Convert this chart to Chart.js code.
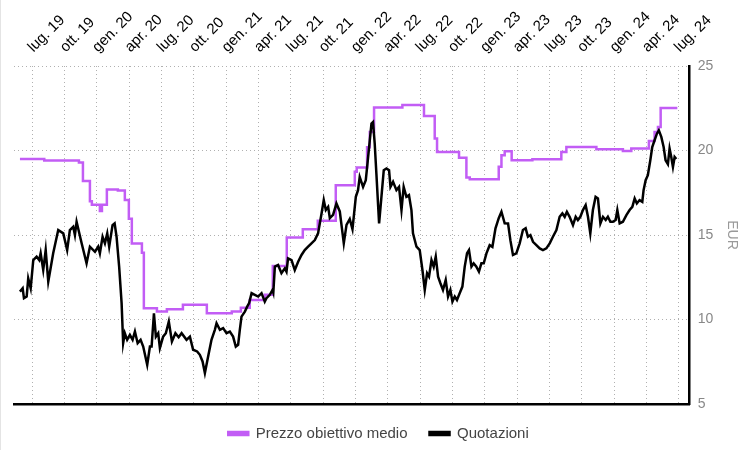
<!DOCTYPE html>
<html>
<head>
<meta charset="utf-8">
<script src="https://cdn.jsdelivr.net/npm/chart.js@4/dist/chart.umd.min.js"></script>
<style>
  html, body { margin: 0; padding: 0; background: #fff; }
  #wrap { width: 744px; height: 450px; border-left: 1px solid #e4e4e4; }
</style>
</head>
<body>
<div id="wrap"><canvas id="grafico" width="744" height="450"></canvas></div>
<script>
// date come anno decimale (2019.5 = luglio 2019)
const trimestri = [2019.5, 2019.75, 2020, 2020.25, 2020.5, 2020.75, 2021, 2021.25, 2021.5, 2021.75,
  2022, 2022.25, 2022.5, 2022.75, 2023, 2023.25, 2023.5, 2023.75, 2024, 2024.25, 2024.5];
const etichette = ['lug. 19', 'ott. 19', 'gen. 20', 'apr. 20', 'lug. 20', 'ott. 20', 'gen. 21', 'apr. 21',
  'lug. 21', 'ott. 21', 'gen. 22', 'apr. 22', 'lug. 22', 'ott. 22', 'gen. 23', 'apr. 23', 'lug. 23',
  'ott. 23', 'gen. 24', 'apr. 24', 'lug. 24'];

// Prezzo obiettivo medio (ogni punto = nuovo valore da quella data)
const obiettivoDate = [2019.405, 2019.593, 2019.861, 2019.892, 2019.946, 2019.961, 2020.023, 2020.039,
  2020.077, 2020.162, 2020.216, 2020.247, 2020.270, 2020.348, 2020.363, 2020.464, 2020.541, 2020.665,
  2020.850, 2021.043, 2021.113, 2021.182, 2021.298, 2021.360, 2021.468, 2021.592, 2021.708, 2021.847,
  2021.994, 2022.009, 2022.089, 2022.110, 2022.143, 2022.362, 2022.529, 2022.612, 2022.630, 2022.800,
  2022.857, 2022.883, 2023.107, 2023.128, 2023.153, 2023.207, 2023.367, 2023.591, 2023.630, 2023.862,
  2024.067, 2024.132, 2024.268, 2024.312, 2024.338, 2024.359, 2024.488];
const obiettivoValori = [19.5, 19.41, 19.3, 18.2, 17.0, 16.8, 16.43, 16.8,
  17.7, 17.64, 17.07, 15.96, 14.5, 13.96, 10.67, 10.47, 10.61, 10.87,
  10.37, 10.47, 10.7, 11.16, 11.46, 13.17, 14.86, 15.35, 15.85, 17.95,
  18.74, 19.0, 20.2, 21.1, 22.55, 22.7, 22.05, 20.71, 19.92, 19.57,
  18.41, 18.31, 19.04, 19.73, 19.96, 19.43, 19.49, 19.92, 20.21, 20.08,
  19.98, 20.12, 20.57, 21.1, 21.4, 22.52, 22.52];

// Quotazioni
const quotazioniDate = [2019.405, 2019.426, 2019.436, 2019.457, 2019.469, 2019.488, 2019.508, 2019.534,
  2019.554, 2019.565, 2019.585, 2019.604, 2019.624, 2019.642, 2019.662, 2019.701, 2019.740, 2019.770,
  2019.791, 2019.817, 2019.830, 2019.843, 2019.882, 2019.920, 2019.946, 2019.985, 2020.010, 2020.023,
  2020.044, 2020.062, 2020.080, 2020.095, 2020.121, 2020.137, 2020.152, 2020.172, 2020.191, 2020.203,
  2020.216, 2020.234, 2020.255, 2020.276, 2020.294, 2020.315, 2020.338, 2020.358, 2020.389, 2020.410,
  2020.423, 2020.441, 2020.456, 2020.474, 2020.487, 2020.512, 2020.533, 2020.556, 2020.580, 2020.607,
  2020.632, 2020.655, 2020.693, 2020.719, 2020.744, 2020.775, 2020.796, 2020.817, 2020.835, 2020.860,
  2020.886, 2020.912, 2020.925, 2020.951, 2020.976, 2021.002, 2021.028, 2021.053, 2021.074, 2021.092,
  2021.105, 2021.118, 2021.144, 2021.162, 2021.177, 2021.196, 2021.221, 2021.247, 2021.273, 2021.298,
  2021.311, 2021.337, 2021.358, 2021.364, 2021.376, 2021.401, 2021.427, 2021.453, 2021.466, 2021.478,
  2021.505, 2021.530, 2021.556, 2021.582, 2021.607, 2021.633, 2021.659, 2021.685, 2021.710, 2021.737,
  2021.754, 2021.770, 2021.788, 2021.801, 2021.826, 2021.852, 2021.878, 2021.909, 2021.930, 2021.955,
  2021.976, 2021.986, 2022.002, 2022.019, 2022.032, 2022.058, 2022.079, 2022.092, 2022.110, 2022.123,
  2022.135, 2022.148, 2022.161, 2022.182, 2022.200, 2022.218, 2022.239, 2022.259, 2022.270, 2022.290,
  2022.316, 2022.336, 2022.355, 2022.372, 2022.393, 2022.413, 2022.432, 2022.444, 2022.471, 2022.496,
  2022.517, 2022.535, 2022.553, 2022.568, 2022.587, 2022.604, 2022.620, 2022.638, 2022.656, 2022.676,
  2022.697, 2022.715, 2022.733, 2022.749, 2022.767, 2022.784, 2022.805, 2022.826, 2022.844, 2022.862,
  2022.877, 2022.896, 2022.913, 2022.934, 2022.954, 2022.973, 2022.991, 2023.012, 2023.037, 2023.058,
  2023.082, 2023.107, 2023.128, 2023.153, 2023.179, 2023.197, 2023.217, 2023.243, 2023.269, 2023.294,
  2023.315, 2023.333, 2023.352, 2023.372, 2023.398, 2023.424, 2023.449, 2023.475, 2023.501, 2023.526,
  2023.553, 2023.578, 2023.599, 2023.617, 2023.634, 2023.655, 2023.681, 2023.702, 2023.719, 2023.738,
  2023.758, 2023.779, 2023.797, 2023.815, 2023.835, 2023.856, 2023.874, 2023.893, 2023.913, 2023.934,
  2023.951, 2023.970, 2023.990, 2024.011, 2024.024, 2024.042, 2024.067, 2024.094, 2024.119, 2024.140,
  2024.158, 2024.175, 2024.196, 2024.217, 2024.227, 2024.243, 2024.260, 2024.279, 2024.294, 2024.312,
  2024.330, 2024.345, 2024.364, 2024.382, 2024.397, 2024.415, 2024.428, 2024.441, 2024.454, 2024.467,
  2024.480];
const quotazioniValori = [11.65, 11.85, 11.26, 11.36, 12.44, 11.85, 13.52, 13.72,
  13.52, 13.92, 12.93, 14.11, 12.24, 13.03, 13.92, 15.3, 15.1, 14.11,
  15.3, 15.49, 15.0, 15.79, 14.51, 13.33, 14.31, 14.01, 14.31, 13.92,
  14.9, 14.51, 15.1, 14.31, 15.59, 15.69, 14.9, 13.13, 10.97, 8.6,
  9.19, 8.8, 9.09, 8.8, 9.29, 8.6, 8.8, 8.4, 7.32, 8.4,
  8.4, 10.37, 8.99, 9.19, 8.31, 8.99, 9.19, 9.88, 8.7, 9.19,
  8.95, 9.19, 8.8, 8.99, 8.21, 8.11, 7.91, 7.52, 6.83, 7.81,
  8.8, 9.39, 9.78, 9.39, 9.49, 9.19, 9.29, 8.99, 8.4, 8.5,
  9.39, 10.17, 10.47, 10.76, 10.97, 11.56, 11.46, 11.36, 11.56, 11.06,
  11.26, 11.46, 11.75, 11.6, 13.13, 13.23, 12.74, 13.03, 12.83, 13.62,
  13.52, 12.93, 13.42, 13.82, 14.11, 14.31, 14.51, 14.7, 15.1, 16.28,
  17.07, 16.48, 16.67, 16.0, 16.2, 16.87, 16.4, 14.51, 15.6, 15.95,
  15.35, 16.08, 17.26, 17.66, 18.44, 17.85, 18.25, 19.23, 20.61, 21.6,
  21.69, 20.42, 18.64, 15.69, 17.26, 18.84, 18.94, 18.84, 17.85, 18.15,
  17.66, 17.85, 16.48, 17.85, 17.26, 17.36, 16.48, 15.1, 14.31, 14.11,
  12.93, 11.75, 12.74, 12.54, 13.52, 13.13, 13.72, 12.54, 12.15, 11.75,
  12.34, 11.36, 11.75, 11.06, 11.36, 11.16, 11.56, 11.95, 13.13, 13.92,
  14.11, 13.13, 13.33, 13.13, 12.83, 13.33, 13.33, 13.92, 14.4, 14.3,
  15.4, 16.0, 16.38, 15.7, 15.69, 14.7, 13.82, 13.92, 14.51, 15.3,
  15.4, 14.9, 15.0, 14.6, 14.41, 14.21, 14.11, 14.21, 14.51, 14.9,
  15.3, 16.08, 16.28, 16.08, 16.38, 16.08, 15.59, 16.08, 15.89, 16.08,
  16.48, 16.77, 16.08, 15.1, 16.48, 17.26, 17.17, 15.69, 16.08, 15.89,
  16.08, 15.79, 15.79, 15.89, 16.48, 15.69, 15.79, 16.18, 16.48, 16.67,
  17.17, 16.87, 17.07, 16.97, 17.66, 18.25, 18.54, 19.43, 20.21, 20.61,
  21.0, 21.2, 20.81, 20.21, 19.43, 19.2, 20.12, 19.62, 19.03, 19.62,
  19.5];

const viola = '#c25df5';
const font = 'Arial, "Liberation Sans", sans-serif';

const punti = (date, valori) => date.map((d, i) => ({ x: d, y: valori[i] }));

new Chart(document.getElementById('grafico'), {
  type: 'line',
  data: {
    datasets: [
      {
        label: 'Prezzo obiettivo medio',
        data: punti(obiettivoDate, obiettivoValori),
        borderColor: viola,
        backgroundColor: viola,
        borderWidth: 2.5,
        pointRadius: 0,
        stepped: true,
        order: 1
      },
      {
        label: 'Quotazioni',
        data: punti(quotazioniDate, quotazioniValori),
        borderColor: '#000',
        backgroundColor: '#000',
        borderWidth: 2.5,
        pointRadius: 0,
        tension: 0,
        order: 0
      }
    ]
  },
  options: {
    responsive: false,
    animation: false,
    layout: { padding: { left: 13, right: 2, top: -2, bottom: -1 } },
    scales: {
      x: {
        type: 'linear',
        position: 'top',
        min: 2019.359,
        max: 2024.583,
        afterBuildTicks: (scale) => { scale.ticks = trimestri.map(v => ({ value: v })); },
        ticks: {
          autoSkip: false,
          minRotation: 45,
          maxRotation: 45,
          padding: 10,
          labelOffset: 11,
          color: '#000',
          font: { family: font, size: 15 },
          callback: (v) => etichette[trimestri.indexOf(v)]
        },
        grid: { color: '#b0b0b0', drawTicks: false },
        border: { display: false, dash: [1, 3] }
      },
      xb: {
        type: 'linear',
        position: 'bottom',
        min: 2019.359,
        max: 2024.583,
        ticks: { display: false },
        grid: { display: false, drawTicks: false },
        border: { color: '#000', width: 2.5 }
      },
      y: {
        position: 'right',
        min: 5,
        max: 25,
        ticks: {
          stepSize: 5,
          padding: 8,
          color: '#888',
          font: { family: font, size: 14 }
        },
        grid: { color: '#b0b0b0', drawTicks: false },
        border: { color: '#000', width: 2.5, dash: [1, 3] },
        title: {
          display: true,
          text: 'EUR',
          color: '#999',
          font: { family: font, size: 14 },
          padding: { top: 3, bottom: 2 }
        }
      }
    },
    plugins: {
      legend: {
        position: 'bottom',
        labels: {
          boxWidth: 20,
          boxHeight: 3,
          padding: 22,
          color: '#444',
          font: { family: font, size: 15 },
          sort: (a, b) => a.datasetIndex - b.datasetIndex
        }
      },
      tooltip: { enabled: false }
    }
  }
});
</script>
</body>
</html>
